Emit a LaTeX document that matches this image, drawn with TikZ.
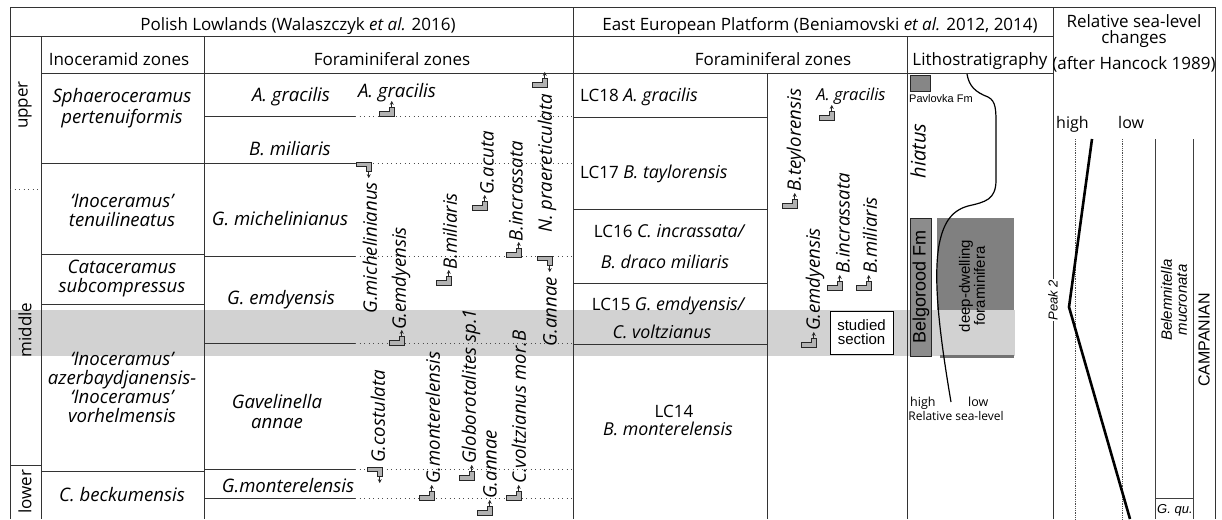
\documentclass[tikz,border=0pt]{standalone}
\usepackage{fontspec}
\setmainfont{Open Sans}
\newfontfamily\arialf{Liberation Sans}
\usetikzlibrary{arrows.meta}
\newcommand\itx{\fontsize{17.8}{20}\selectfont\itshape}
\tikzset{
  tl/.style={black!80, line width=1pt},
  thn/.style={black!75, line width=0.8pt},
  dl/.style={black!70, line width=0.9pt, dash pattern=on 0.9pt off 3.6pt},
  fdl/.style={black!70, line width=0.7pt, dash pattern=on 0.6pt off 1.2pt},
  hd/.style={inner sep=0pt, font=\fontsize{17}{20}\selectfont},
  it/.style={inner sep=0pt, font=\fontsize{18.6}{20}\selectfont\itshape},
  vl/.style={inner sep=0pt, rotate=90, font=\fontsize{18.6}{20}\selectfont\itshape},
  ar/.style={inner sep=0pt, align=center, font=\arialf\fontsize{15}{14}\selectfont},
  ico/.style={fill=gray!60, draw=black!85, line width=0.6pt},
  icoar/.style={black!85, line width=1pt, -{Stealth[length=3.8pt, width=4pt]}},
  upico/.pic={\filldraw[ico] (0,0) -- (15,0) -- (15,-9) -- (10.5,-9) -- (10.5,-4.3) -- (0,-4.3) -- cycle;
              \draw[icoar] (12.75,-9) -- (12.75,-15);},
  dnico/.pic={\filldraw[ico] (0,0) -- (15,0) -- (15,9) -- (10.5,9) -- (10.5,4.3) -- (0,4.3) -- cycle;
              \draw[icoar] (12.75,9) -- (12.75,16);},
}
\begin{document}
\begin{tikzpicture}[x=1pt,y=-1pt]
\useasboundingbox (0,0) rectangle (1222,519);
% backgrounds
\fill[gray] (937,218) rectangle (1014,356);
\fill[gray!35] (10,310) rectangle (1015,356);
\fill[black!55] (940,355) rectangle (1014,357.5);
% outer frame and main lines
\draw[tl] (10,519) -- (10,8) -- (1215,8) -- (1215,519);
\draw[tl] (10,37) -- (1053,37);
\draw[tl] (41,73) -- (1053,73);
\draw[tl] (573,8) -- (573,519);
\draw[tl] (1053,8) -- (1053,519);
\draw[tl] (41,37) -- (41,519);
\draw[tl] (204,37) -- (204,519);
\draw[tl] (907,37) -- (907,519);
\draw[tl] (767,73) -- (767,519);
% substages
\draw[dl] (10,189) -- (41,189);
\draw[tl] (10,465) -- (41,465);
% inoceramid
\foreach \yy in {163,254,304,471} \draw[tl] (41,\yy) -- (204,\yy);
% Polish foram
\foreach \yy in {116,163,256,343,469,498} {\draw[tl] (204,\yy) -- (355,\yy); \draw[dl] (355,\yy) -- (573,\yy);}
% EEP
\foreach \yy in {117,209,283,344} \draw[tl] (573,\yy) -- (767,\yy);
% right column
\draw[fdl] (1075,139) -- (1075,519);
\draw[fdl] (1122,139) -- (1122,519);
\draw[thn] (1155,139) -- (1155,519);
\draw[thn] (1193,139) -- (1193,519);
\draw[thn] (1155,498) -- (1193,498);
\draw[line width=2.6pt] (1092,139) -- (1069,307) -- (1130,519);

% headers
\node[hd, anchor=base] (hPL) at (298,31) {Polish Lowlands (Walaszczyk \textit{et al.} 2016)};
\node[hd, anchor=base] (hEEP) at (820,31) {East European Platform (Beniamovski \textit{et al.} 2012, 2014)};
\node[hd, anchor=north, align=center, font=\fontsize{17}{16}\selectfont] (hRSL) at (1134,14.5) {Relative sea-level\\changes};
\node[hd, anchor=base] (hHan) at (1134,70) {(after Hancock 1989)};
\node[hd, anchor=base] (hIno) at (119,66) {Inoceramid zones};
\node[hd, anchor=base] (hFor1) at (392,66) {Foraminiferal zones};
\node[hd, anchor=base] (hFor2) at (773,66) {Foraminiferal zones};
\node[hd, anchor=base] (hLit) at (980,66) {Lithostratigraphy};
% substages
\node[hd, rotate=90] (sUp) at (25,105) {upper};
\node[hd, rotate=90] (sMid) at (25,330) {middle};
\node[hd, rotate=90] (sLow) at (25,492) {lower};
% inoceramid zones
\node[it, anchor=base] (i1a) at (122,102) {Sphaeroceramus};
\node[it, anchor=base] (i1b) at (122,123) {pertenuiformis};
\node[it, anchor=base] (i2a) at (122,207) {‘Inoceramus’};
\node[it, anchor=base] (i2b) at (122,226) {tenuilineatus};
\node[it, anchor=base] (i3a) at (122,273) {Cataceramus};
\node[it, anchor=base] (i3b) at (122,292) {subcompressus};
\node[it, anchor=base] (i4a) at (122,365) {‘Inoceramus’};
\node[it, anchor=base] (i4b) at (122,384) {azerbaydjanensis-};
\node[it, anchor=base] (i4c) at (122,403) {‘Inoceramus’};
\node[it, anchor=base] (i4d) at (122,422) {vorhelmensis};
\node[it, anchor=base] (i5) at (122,501) {C. beckumensis};
% Polish foram zones
\node[it, anchor=base] (f1) at (291,101) {A. gracilis};
\node[it, anchor=base] (f2) at (290,155) {B. miliaris};
\node[it, anchor=base] (f3) at (280,225) {G. michelinianus};
\node[it, anchor=base] (f4) at (281,304) {G. emdyensis};
\node[it, anchor=base] (f5a) at (277,408) {Gavelinella};
\node[it, anchor=base] (f5b) at (277,428) {annae};
\node[it, anchor=base] (f6) at (288,492) {G.monterelensis};
\node[it, anchor=base] (f7) at (397,97) {A. gracilis};
% EEP zones
\node[hd, anchor=base west] (e18) at (580,101.5) {LC18 {\itx A. gracilis}};
\node[hd, anchor=base west] (e17) at (580,178) {LC17 {\itx B. taylorensis}};
\node[hd, anchor=base] (e16a) at (669,237) {LC16 {\itx C. incrassata/}};
\node[hd, anchor=base] (e16b) at (665,268) {{\itx B. draco miliaris}};
\node[hd, anchor=base] (e15a) at (668,310) {LC15 {\itx G. emdyensis/}};
\node[hd, anchor=base] (e15b) at (662,338) {{\itx C. voltzianus}};
\node[hd, anchor=base] (e14a) at (674,417) {LC14};
\node[hd, anchor=base] (e14b) at (668,435) {{\itx B. monterelensis}};
\node[inner sep=0pt, anchor=base, font=\fontsize{16.5}{18}\selectfont\itshape] (e18b) at (851,100) {A. gracilis};
% icons
\pic (u1) at (379,116) {upico};
\pic (u2) at (389,345) {upico};
\pic (u3) at (436,285) {upico};
\pic (u4) at (472,210) {upico};
\pic (u5) at (506,257) {upico};
\pic (u6) at (532,87) {upico};
\pic (u7) at (419,500) {upico};
\pic (u8) at (459,480) {upico};
\pic (u9) at (477,515) {upico};
\pic (u10) at (506,500) {upico};
\pic (u11) at (819,120) {upico};
\pic (u12) at (782,208) {upico};
\pic (u13) at (801,347) {upico};
\pic (u14) at (827,290) {upico};
\pic (u15) at (856,290) {upico};
\pic (d1) at (356,162) {dnico};
\pic (d2) at (537,256) {dnico};
\pic (d3) at (367,467) {dnico};
% vertical labels
\node[vl, anchor=east] (v1) at (370,182) {G.michelinianus};
\node[vl, anchor=west] (v2) at (401,330) {G.emdyensis};
\node[vl, anchor=west] (v3) at (450,270) {B.miliaris};
\node[vl, anchor=west] (v4) at (487,195) {G.acuta};
\node[vl, anchor=west] (v5) at (516,242) {B.incrassata};
\node[vl, anchor=west] (v6) at (547,233) {N. praereticulata};
\node[vl, anchor=east] (v7) at (550,277) {G.annae};
\node[vl, anchor=west] (v8) at (378,463) {G.costulata};
\node[vl, anchor=west] (v9) at (433,484) {G.monterelensis};
\node[vl, anchor=west] (v10) at (471,464) {Globorotalites sp.1};
\node[vl, anchor=west] (v11) at (490,499) {G.annae};
\node[vl, anchor=west] (v12) at (519,484) {C.voltzianus mor.B};
\node[vl, anchor=west] (v13) at (796,192) {B.teylorensis};
\node[vl, anchor=west] (v14) at (815,331) {G.emdyensis};
\node[vl, anchor=west] (v15) at (843,274) {B.incrassata};
\node[vl, anchor=west] (v16) at (870,274) {B.miliaris};
% studied section
\node[ar, draw=black, fill=white, line width=0.9pt, minimum width=63pt, minimum height=43pt] (stud) at (861.5,332.5) {studied\\section};
% lithostratigraphy
\draw[fill=gray!95, draw=black!85, line width=0.8pt] (910,75) rectangle (930,91);
\node[inner sep=0pt, anchor=base west, font=\arialf\fontsize{11}{12}\selectfont] (pav) at (909,102) {Pavlovka Fm};
\node[inner sep=0pt, rotate=90, font=\fontsize{20}{22}\selectfont\itshape] (hiat) at (918,151) {hiatus};
\draw[fill=gray!90, draw=black!85, line width=0.9pt] (910,218) rectangle (931,356);
\node[inner sep=0pt, rotate=90, font=\arialf\fontsize{18}{20}\selectfont] (belg) at (921,287) {Belgorood Fm};
\node[ar, rotate=90, font=\arialf\fontsize{15}{13}\selectfont] (deep) at (972,286) {deep-dwelling\\foraminifera};
\draw[line width=1.2pt] (967,74) .. controls (969,86) and (975,92) .. (988,97) .. controls (996,101) and (996,110) .. (996,125) -- (996,180) .. controls (996,200) and (985,202) .. (968,206) .. controls (950,211) and (943,225) .. (939,245) .. controls (934,275) and (937,320) .. (951,402);
\node[inner sep=0pt, anchor=base west, font=\fontsize{12.5}{14}\selectfont] (lhi) at (910,406) {high};
\node[inner sep=0pt, anchor=base west, font=\fontsize{12.5}{14}\selectfont] (llo) at (968,406) {low};
\node[inner sep=0pt, anchor=base, font=\fontsize{12}{14}\selectfont] (lrs) at (956,420) {Relative sea-level};
% right column texts
\node[hd, anchor=base west, font=\fontsize{16}{18}\selectfont] (rhi) at (1056,128) {high};
\node[hd, anchor=base west, font=\fontsize{16}{18}\selectfont] (rlo) at (1118,128) {low};
\node[inner sep=1pt, fill=white, rotate=90, font=\arialf\fontsize{13}{14}\selectfont\itshape] (peak) at (1053,300) {Peak 2};
\node[ar, rotate=90, font=\arialf\fontsize{15}{15}\selectfont\itshape] (belm) at (1174,300) {Belemnitella\\mucronata};
\node[inner sep=0pt, rotate=90, font=\arialf\fontsize{16}{18}\selectfont] (camp) at (1204,340) {CAMPANIAN};
\node[inner sep=0pt, anchor=base west, font=\arialf\fontsize{13}{14}\selectfont\itshape] (gqu) at (1157,513) {G. qu.};
\end{tikzpicture}
\end{document}
